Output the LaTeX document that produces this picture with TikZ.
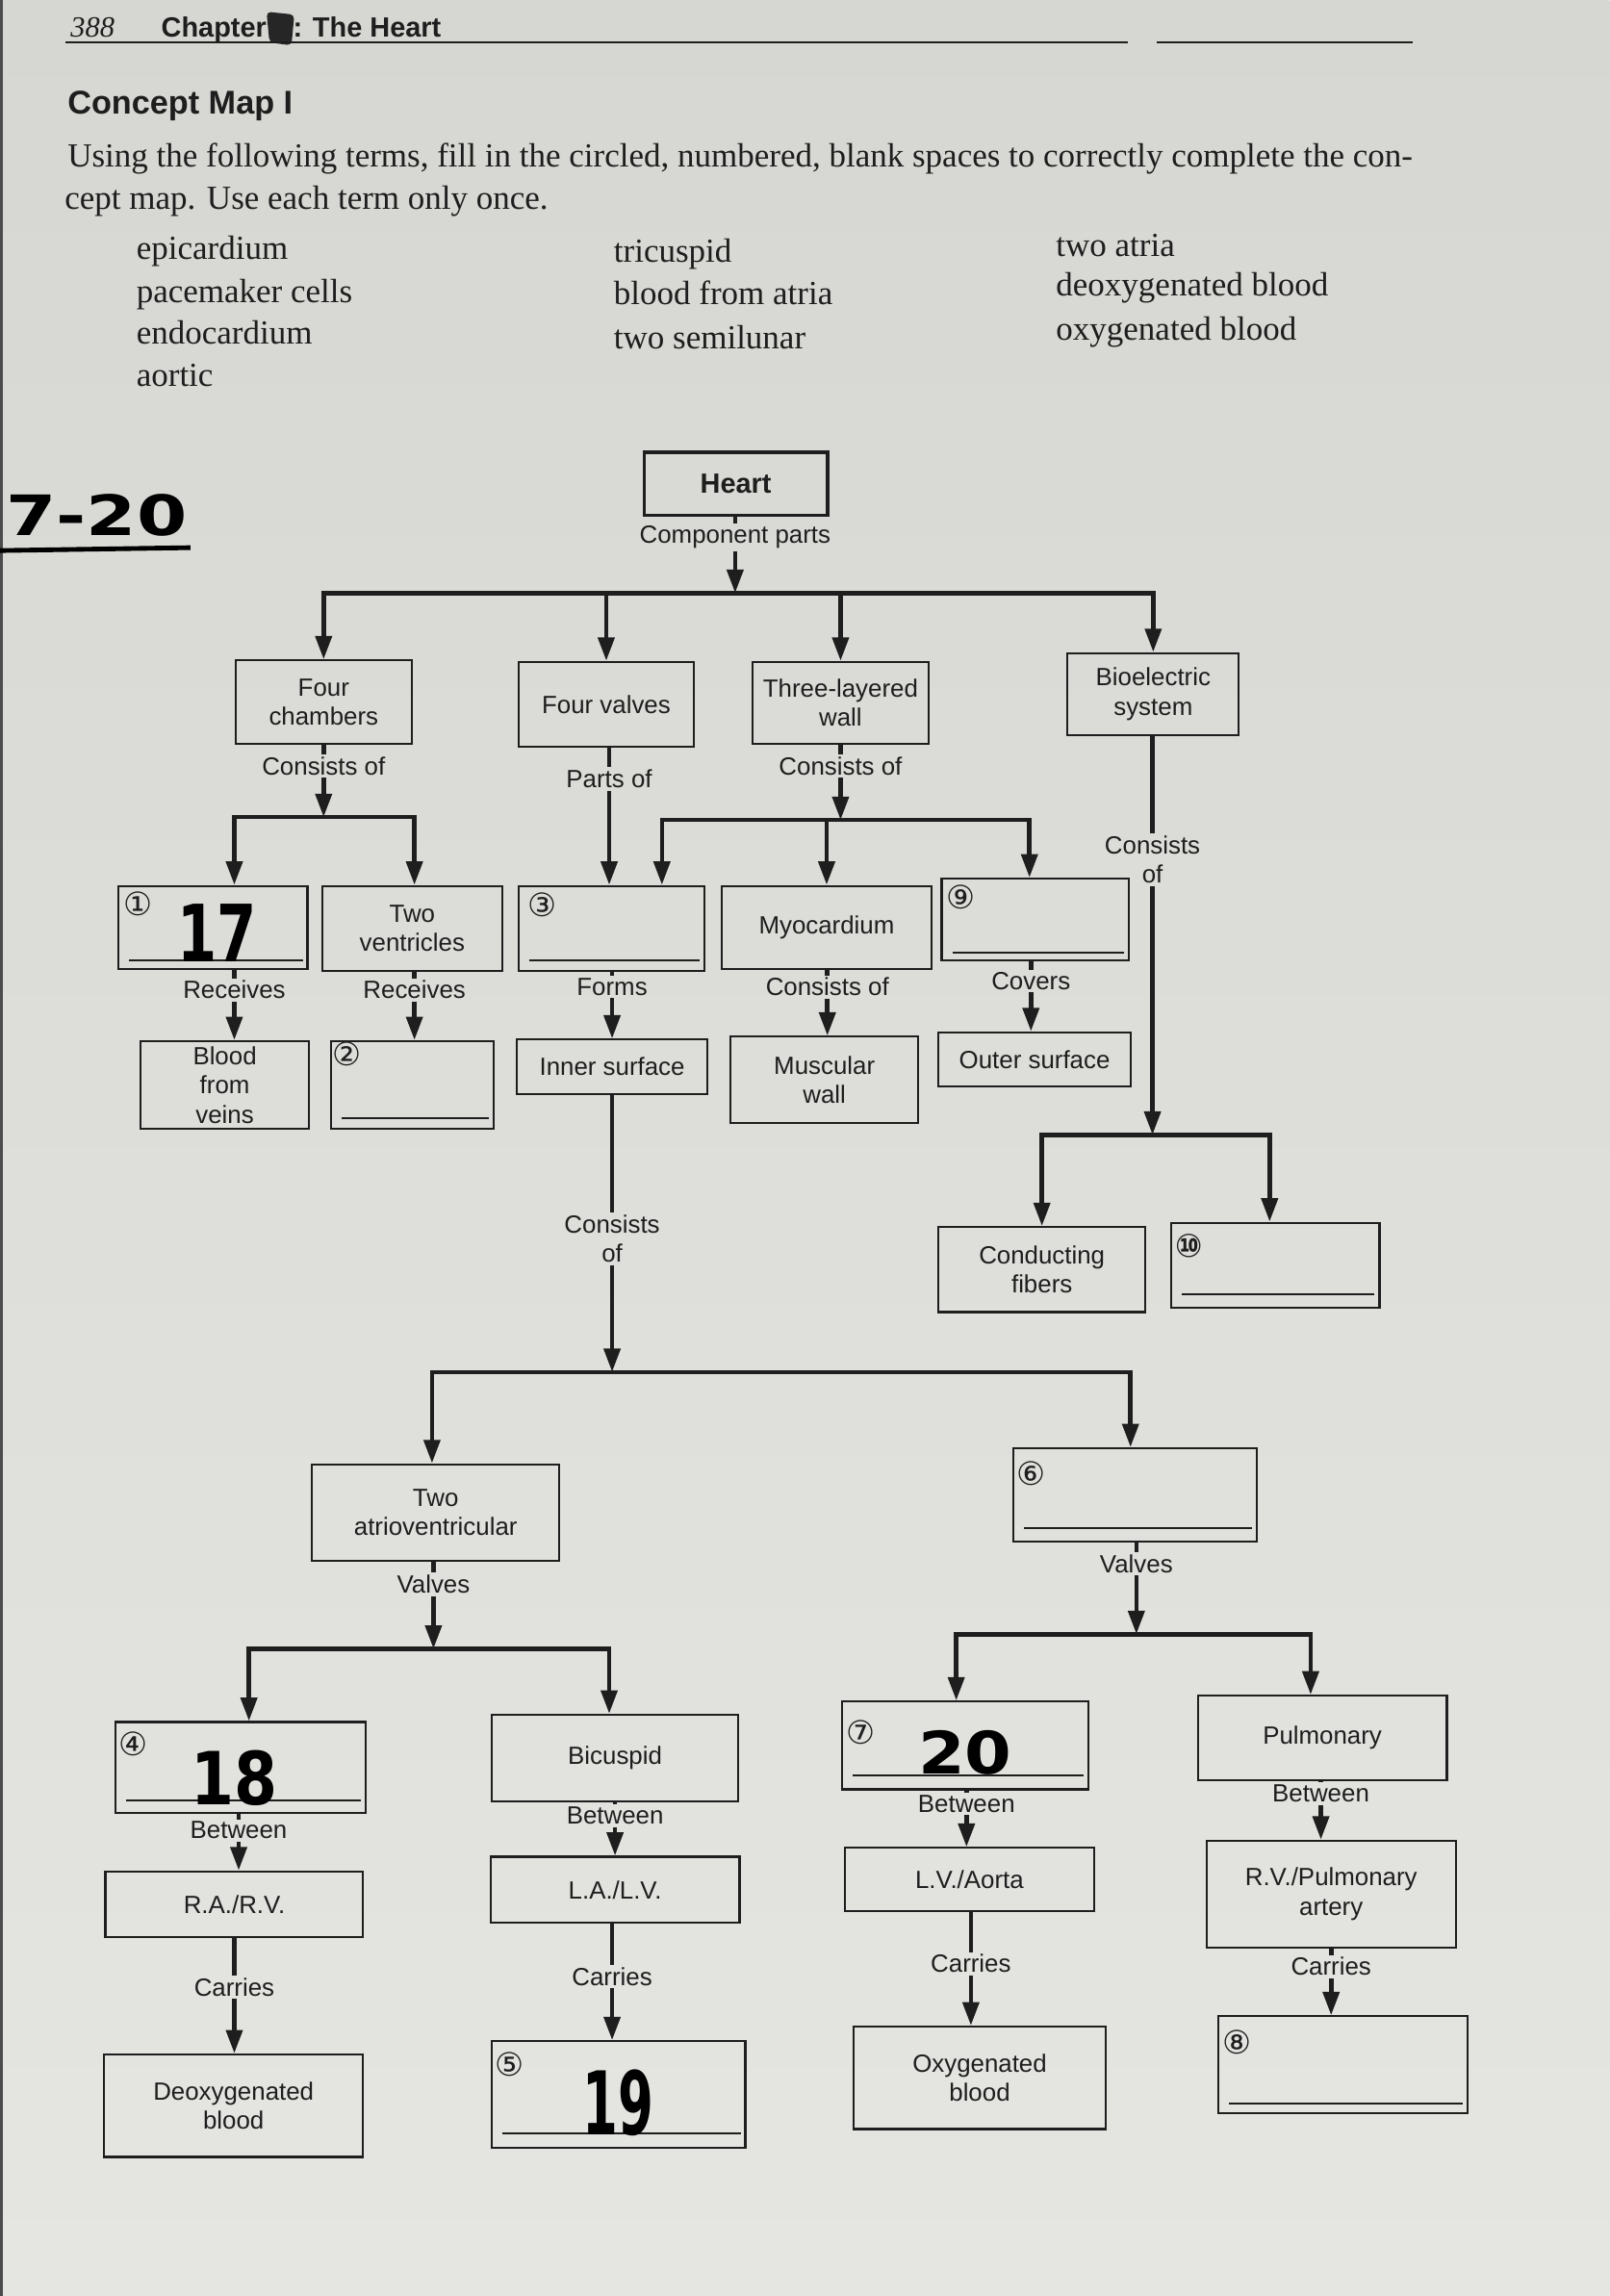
\documentclass[tikz,border=0pt]{standalone}
\usepackage{fontspec}
\setmainfont{Liberation Serif}
\setsansfont{Liberation Sans}
\newfontfamily\symfont{DejaVu Sans}
\newfontfamily\handfont{DejaVu Sans}
\usetikzlibrary{arrows.meta}
\definecolor{bgtop}{RGB}{214,214,210}
\definecolor{bgbot}{RGB}{229,229,226}
\definecolor{ink}{RGB}{30,30,30}
\begin{document}
\begin{tikzpicture}[x=1pt,y=-1pt,
  box/.style={draw=ink,line width=1.4pt,align=center,inner sep=1pt,text=ink,font=\sffamily\fontsize{17}{20}\selectfont},
  lbl/.style={align=center,inner sep=1.5pt,text=ink,font=\sffamily\fontsize{17}{20}\selectfont},
  ln/.style={draw=ink,line width=3pt},
  arr/.style={draw=ink,line width=3pt,-{Triangle[width=11pt,length=16pt]}},
  cnum/.style={inner sep=0pt,text=ink,font=\symfont\fontsize{22}{22}\selectfont},
  hand/.style={inner sep=0pt,text=black,font=\handfont\bfseries},
  blank/.style={draw=ink,line width=1.2pt},
  term/.style={anchor=base west,inner sep=0pt,text=ink,font=\rmfamily\fontsize{23}{26}\selectfont}]
\useasboundingbox (0,0) rectangle (1099,1568);
\shade[top color=bgtop,bottom color=bgbot] (0,0) rectangle (1099,1568);
\draw[line width=2pt,black!70] (1,0) -- (1,1568);

% header
\node[anchor=base west,inner sep=0pt,text=ink,font=\rmfamily\itshape\fontsize{20}{22}\selectfont] (pgno) at (48,25) {388};
\node[anchor=base west,inner sep=0pt,text=ink,font=\sffamily\bfseries\fontsize{19}{22}\selectfont] (chap) at (110,25) {Chapter};
\fill[black!85,rounded corners=3pt] (182,8) -- (201,10) -- (199,31) -- (184,29) -- cycle;
\node[anchor=base west,inner sep=0pt,text=ink,font=\sffamily\bfseries\fontsize{19}{22}\selectfont] (heartt) at (200,25) {: The Heart};
\draw[ink,line width=1.2pt] (45,29) -- (770,29);
\draw[ink,line width=1.2pt] (790,29) -- (965,29);

\node[anchor=base west,inner sep=0pt,text=ink,font=\sffamily\bfseries\fontsize{22.5}{26}\selectfont] (cmap) at (46,78) {Concept Map I};
\node[anchor=base west,inner sep=0pt,text=ink,font=\rmfamily\fontsize{23}{26}\selectfont] (para1) at (46,114) {Using the following terms, fill in the circled, numbered, blank spaces to correctly complete the con-};
\node[anchor=base west,inner sep=0pt,text=ink,font=\rmfamily\fontsize{23}{26}\selectfont] (para2) at (44,143) {cept map. Use each term only once.};

\node[term] (t1) at (93,177) {epicardium};
\node[term] (t2) at (93,207) {pacemaker cells};
\node[term] (t3) at (93,235) {endocardium};
\node[term] (t4) at (93,264) {aortic};
\node[term] (t5) at (419,179) {tricuspid};
\node[term] (t6) at (419,208) {blood from atria};
\node[term] (t7) at (419,238) {two semilunar};
\node[term] (t8) at (721,175) {two atria};
\node[term] (t9) at (721,202) {deoxygenated blood};
\node[term] (t10) at (721,232) {oxygenated blood};

% handwritten 7-20
\node[hand,font=\handfont\bfseries\fontsize{38}{38}\selectfont] (hw) at (66,352) {\scalebox{1.3}[1]{7-20}};
\draw[black,line width=3.2pt] (0,376) -- (130,374);

% boxes
\node[box,line width=2.4pt,font=\sffamily\bfseries\fontsize{19}{22}\selectfont,minimum width=125pt,minimum height=43pt] (heart) at (502.5,330.5) {Heart};
\node[box,minimum width=120pt,minimum height=57pt] (fourch) at (221,479.5) {Four\\chambers};
\node[box,minimum width=120pt,minimum height=58pt] (fourv) at (414,481) {Four valves};
\node[box,minimum width=120pt,minimum height=56pt] (three) at (574,480) {Three-layered\\wall};
\node[box,minimum width=117pt,minimum height=56pt] (bio) at (787.5,474) {Bioelectric\\system};
\node[box,minimum width=129pt,minimum height=57pt] (b1) at (145.5,633.5) {};
\node[box,minimum width=123pt,minimum height=58pt] (twov) at (281.5,634) {Two\\ventricles};
\node[box,minimum width=127pt,minimum height=58pt] (b3) at (417.5,634) {};
\node[box,minimum width=143pt,minimum height=57pt] (myo) at (564.5,633.5) {Myocardium};
\node[box,minimum width=128pt,minimum height=56pt] (b9) at (707,628) {};
\node[box,minimum width=115pt,minimum height=60pt] (veins) at (153.5,741) {Blood\\from\\veins};
\node[box,minimum width=111pt,minimum height=60pt] (b2) at (281.5,741) {};
\node[box,minimum width=130pt,minimum height=37pt] (inner) at (418,728.5) {Inner surface};
\node[box,minimum width=128pt,minimum height=59pt] (musc) at (563,737.5) {Muscular\\wall};
\node[box,minimum width=131pt,minimum height=37pt] (outer) at (706.5,723.5) {Outer surface};
\node[box,minimum width=141pt,minimum height=58pt] (cond) at (711.5,867) {Conducting\\fibers};
\node[box,minimum width=142pt,minimum height=58pt] (b10) at (871,864) {};
\node[box,minimum width=169pt,minimum height=66pt] (twoav) at (297.5,1033) {Two\\atrioventricular};
\node[box,minimum width=166pt,minimum height=64pt] (b6) at (775,1021) {};
\node[box,minimum width=171pt,minimum height=62pt] (b4) at (164.5,1207) {};
\node[box,minimum width=168pt,minimum height=59pt] (bicus) at (420,1200.5) {Bicuspid};
\node[box,minimum width=176pt,minimum height=45pt] (rarv) at (160,1300.5) {R.A./R.V.};
\node[box,minimum width=170pt,minimum height=45pt] (lalv) at (420,1290.5) {L.A./L.V.};
\node[box,minimum width=177pt,minimum height=70pt] (deoxy) at (159.5,1438) {Deoxygenated\\blood};
\node[box,minimum width=173pt,minimum height=73pt] (b5) at (422.5,1430.5) {};
\node[box,minimum width=168pt,minimum height=60pt] (b7) at (659,1192) {};
\node[box,minimum width=170pt,minimum height=58pt] (pulm) at (903,1187) {Pulmonary};
\node[box,minimum width=170pt,minimum height=43pt] (lvao) at (662,1283.5) {L.V./Aorta};
\node[box,minimum width=170pt,minimum height=73pt] (rvpa) at (909,1293.5) {R.V./Pulmonary\\artery};
\node[box,minimum width=172pt,minimum height=70pt] (oxy) at (669,1419) {Oxygenated\\blood};
\node[box,minimum width=170pt,minimum height=66pt] (b8) at (917,1410) {};

% blank lines
\foreach \b/\o in {b1/7,b2/8,b3/8,b9/6,b10/10,b6/10,b4/9,b5/11,b7/10,b8/7}
  \draw[blank] ([shift={(8,-\o)}]\b.south west) -- ([shift={(-4,-\o)}]\b.south east);

% circled numbers
\node[cnum] (n1) at (94,617) {①};
\node[cnum] (n2) at (237,720) {②};
\node[cnum] (n3) at (370,618) {③};
\node[cnum] (n9) at (656,613) {⑨};
\node[cnum,font=\symfont\bfseries\fontsize{22}{22}\selectfont] (n10) at (812,851) {⑩};
\node[cnum] (n6) at (704,1006) {⑥};
\node[cnum] (n4) at (91,1191) {④};
\node[cnum] (n5) at (348,1410) {⑤};
\node[cnum] (n7) at (588,1183) {⑦};
\node[cnum] (n8) at (845,1395) {⑧};

% handwritten answers
\node[hand,font=\handfont\bfseries\fontsize{54}{54}\selectfont] (h17) at (148,637) {\scalebox{0.72}[1]{17}};
\node[hand,font=\handfont\bfseries\fontsize{50}{50}\selectfont] (h18) at (160,1214) {\scalebox{0.85}[1]{18}};
\node[hand,font=\handfont\bfseries\fontsize{60}{60}\selectfont] (h19) at (422,1436) {\scalebox{0.58}[1]{19}};
\node[hand,font=\handfont\bfseries\fontsize{40}{40}\selectfont] (h20) at (659,1197) {\scalebox{1.15}[1]{20}};

% labels
\node[lbl] (lcomp) at (502,367) {Component parts};
\node[lbl] (lfc) at (221,523) {Consists of};
\node[lbl] (lfv) at (416,532) {Parts of};
\node[lbl] (ltw) at (574,523) {Consists of};
\node[lbl] (lbio) at (787,587) {Consists\\of};
\node[lbl] (lr1) at (160,676) {Receives};
\node[lbl] (lr2) at (283,676) {Receives};
\node[lbl] (lforms) at (418,674) {Forms};
\node[lbl] (lmyo) at (565,674) {Consists of};
\node[lbl] (lcov) at (704,670) {Covers};
\node[lbl] (lin) at (418,846) {Consists\\of};
\node[lbl] (lv1) at (296,1082) {Valves};
\node[lbl] (lv2) at (776,1068) {Valves};
\node[lbl] (lb4) at (163,1250) {Between};
\node[lbl] (lc4) at (160,1357) {Carries};
\node[lbl] (lbb) at (420,1240) {Between};
\node[lbl] (lcb) at (418,1350) {Carries};
\node[lbl] (lb7) at (660,1232) {Between};
\node[lbl] (lc7) at (663,1341) {Carries};
\node[lbl] (lbp) at (902,1225) {Between};
\node[lbl] (lcp) at (909,1343) {Carries};

% junctions
\coordinate (j1) at (502,405);
\coordinate (j2) at (221,558);
\coordinate (j3) at (574,560);
\coordinate (j4) at (787,775);
\coordinate (j5) at (418,937);
\coordinate (j6) at (296,1126);
\coordinate (j7) at (776,1116);

% heart
\draw[ln] (heart.south -| lcomp) -- (lcomp.north);
\draw[arr] (lcomp.south) -- (j1);
\foreach \t in {fourch,fourv,three,bio} \draw[arr] (j1) -| (\t.north);
% four chambers
\draw[ln] (fourch.south -| lfc) -- (lfc.north);
\draw[arr] (lfc.south) -- (j2);
\draw[arr] (j2) -| (lr1 |- b1.north);
\draw[arr] (j2) -| (lr2 |- twov.north);
\draw[ln] (b1.south -| lr1) -- (lr1.north);
\draw[arr] (lr1.south) -- (lr1 |- veins.north);
\draw[ln] (twov.south -| lr2) -- (lr2.north);
\draw[arr] (lr2.south) -- (lr2 |- b2.north);
% four valves
\draw[ln] (fourv.south -| lfv) -- (lfv.north);
\draw[arr] (lfv.south) -- (lfv |- b3.north);
% three layered
\draw[ln] (three.south -| ltw) -- (ltw.north);
\draw[arr] (ltw.south) -- (j3);
\draw[arr] (j3) -| ([xshift=34.5pt]b3.north);
\draw[arr] (j3) -| (myo.north);
\draw[arr] (j3) -| ([xshift=-4pt]b9.north);
\draw[ln] (b3.south -| lforms) -- (lforms.north);
\draw[arr] (lforms.south) -- (lforms |- inner.north);
\draw[ln] (myo.south -| lmyo) -- (lmyo.north);
\draw[arr] (lmyo.south) -- (lmyo |- musc.north);
\draw[ln] (b9.south -| lcov) -- (lcov.north);
\draw[arr] (lcov.south) -- (lcov |- outer.north);
% bioelectric
\draw[ln] (bio.south -| lbio) -- (lbio.north);
\draw[arr] (lbio.south) -- (j4);
\draw[arr] (j4) -| (cond.north);
\draw[arr] (j4) -| ([xshift=-4pt]b10.north);
% inner surface
\draw[ln] (inner.south -| lin) -- (lin.north);
\draw[arr] (lin.south) -- (j5);
\draw[arr] (j5) -| ([xshift=-2.5pt]twoav.north);
\draw[arr] (j5) -| ([xshift=-3pt]b6.north);
% AV valves
\draw[ln] (twoav.south -| lv1) -- (lv1.north);
\draw[arr] (lv1.south) -- (j6);
\draw[arr] (j6) -| ([xshift=5.5pt]b4.north);
\draw[arr] (j6) -| ([xshift=-4pt]bicus.north);
\draw[ln] (b4.south -| lb4) -- (lb4.north);
\draw[arr] (lb4.south) -- (lb4 |- rarv.north);
\draw[ln] (rarv.south -| lc4) -- (lc4.north);
\draw[arr] (lc4.south) -- (lc4 |- deoxy.north);
\draw[ln] (bicus.south -| lbb) -- (lbb.north);
\draw[arr] (lbb.south) -- (lbb |- lalv.north);
\draw[ln] (lalv.south -| lcb) -- (lcb.north);
\draw[arr] (lcb.south) -- (lcb |- b5.north);
% semilunar valves
\draw[ln] (b6.south -| lv2) -- (lv2.north);
\draw[arr] (lv2.south) -- (j7);
\draw[arr] (j7) -| ([xshift=-6pt]b7.north);
\draw[arr] (j7) -| ([xshift=-8pt]pulm.north);
\draw[ln] (b7.south -| lb7) -- (lb7.north);
\draw[arr] (lb7.south) -- (lb7 |- lvao.north);
\draw[ln] (lvao.south -| lc7) -- (lc7.north);
\draw[arr] (lc7.south) -- (lc7 |- oxy.north);
\draw[ln] (pulm.south -| lbp) -- (lbp.north);
\draw[arr] (lbp.south) -- (lbp |- rvpa.north);
\draw[ln] (rvpa.south -| lcp) -- (lcp.north);
\draw[arr] (lcp.south) -- (lcp |- b8.north);
\end{tikzpicture}
\end{document}
